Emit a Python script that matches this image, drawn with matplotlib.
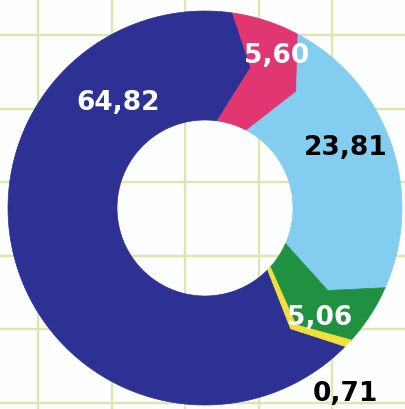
import numpy as np
import matplotlib
matplotlib.use("Agg")
import matplotlib.pyplot as plt
from matplotlib.patches import Polygon

# data ############################################################################################
labels = ["64,82", "5,60", "23,81", "5,06", "0,71"]
values = [64.82, 5.60, 23.81, 5.06, 0.71]
colors = ["#2c3193", "#e03672", "#83cdf0", "#1f9140", "#f1e03c"]
text_colors = ["white", "white", "black", "white", "black"]

# layout (pixel-ish units, centre of the ring at 0,0) ##############################################
R_OUT = 197
R_IN = 88
R_MID = 148
BEND = 10          # degrees the boundary kinks clockwise at mid radius
PINK_START = 8     # pink slice starts here (clockwise from north)
label_xy = [(-87, 105), (72, 152), (141, 60), (115, -110), (140, -186)]

FONT = ["DejaVu Sans"]


def pt(rho, ang):
    a = np.radians(ang)
    return rho * np.sin(a), rho * np.cos(a)


def slice_poly(a0, a1):
    # outer arc a0 -> a1, kinked edge inwards, inner arc back, kinked edge outwards
    n = max(int(abs(a1 - a0)), 2) + 1
    outer = [pt(R_OUT, a) for a in np.linspace(a0, a1, n)]
    inner = [pt(R_IN, a) for a in np.linspace(a1, a0, n)]
    pts = outer + [pt(R_MID, a1 + BEND)] + inner + [pt(R_MID, a0 + BEND)]
    return pts


def main():
    fig = plt.figure(figsize=(4.05, 4.09), dpi=100)
    fig.patch.set_facecolor("#fdfefe")
    ax = fig.add_axes([0, 0, 1, 1])
    ax.set_xlim(-205, 200)
    ax.set_ylim(-201, 208)
    ax.set_aspect("equal")

    # graph-paper background
    ax.set_xticks(np.arange(-167, 200, 73.5))
    ax.set_yticks(np.arange(173, -205, -73.5))
    ax.grid(True, color="#dde6ac", linewidth=1.7)
    ax.set_axisbelow(True)
    ax.tick_params(length=0, labelbottom=False, labelleft=False)
    for s in ax.spines.values():
        s.set_visible(False)
    ax.set_facecolor("#fdfefe")

    spans = np.array(values) / np.sum(values) * 360.0
    start = PINK_START - spans[0]      # blue comes first, ending where pink starts
    edges = start + np.concatenate([[0], np.cumsum(spans)])
    for i in range(len(values)):
        ax.add_patch(Polygon(slice_poly(edges[i], edges[i + 1]), closed=True,
                             facecolor=colors[i], edgecolor=colors[i], linewidth=0.5, zorder=2))

    for i in range(len(labels)):
        ax.text(label_xy[i][0], label_xy[i][1], labels[i], color=text_colors[i],
                fontsize=19, fontweight="bold", family=FONT,
                ha="center", va="center", zorder=3)

    fig.savefig("out.png", dpi=100, facecolor=fig.get_facecolor())


if __name__ == "__main__":
    main()
